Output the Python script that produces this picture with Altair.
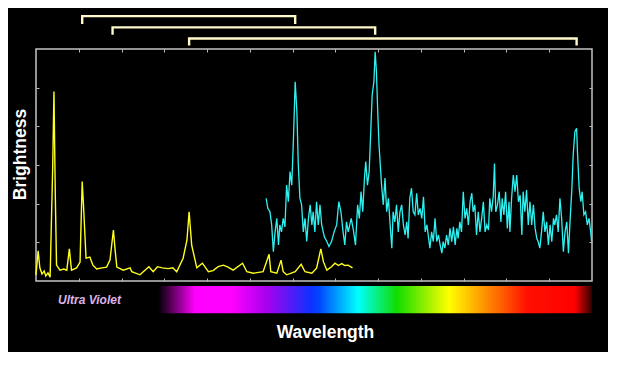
import altair as alt
import pandas as pd

# ---------------- data ----------------
uv_wavelength = [0.00, 0.05, 0.09, 0.14, 0.19, 0.23, 0.28, 0.33, 0.39, 0.42,
                 0.45, 0.48, 0.56, 0.65, 0.72, 0.78, 0.83, 0.95, 1.03, 1.08,
                 1.11, 1.17, 1.26, 1.33, 1.42, 1.54, 1.65, 1.73, 1.81, 1.85,
                 1.89, 2.04, 2.20, 2.24, 2.43, 2.64, 2.74, 2.84, 2.95, 3.09,
                 3.20, 3.29, 3.44, 3.53, 3.58, 3.64, 3.76, 3.89, 4.03, 4.14,
                 4.26, 4.38, 4.49, 4.61, 4.83, 4.93, 5.08, 5.31, 5.45, 5.49,
                 5.63, 5.73, 5.78, 5.86, 6.06, 6.20, 6.29, 6.45, 6.56, 6.66,
                 6.72, 6.80, 6.91, 6.99, 7.07, 7.15, 7.22, 7.30, 7.40]
uv_brightness = [0.16, 0.78, 0.34, 0.18, 0.26, 0.13, 0.21, 0.10, 2.92, 4.90,
                 2.30, 0.41, 0.28, 0.31, 0.28, 0.83, 0.28, 0.34, 0.49, 2.57,
                 1.97, 0.59, 0.62, 0.41, 0.31, 0.34, 0.36, 0.54, 1.32, 0.80,
                 0.36, 0.28, 0.34, 0.24, 0.16, 0.37, 0.24, 0.37, 0.34, 0.32,
                 0.34, 0.24, 0.59, 1.06, 1.79, 0.93, 0.34, 0.46, 0.24, 0.27,
                 0.37, 0.41, 0.36, 0.28, 0.46, 0.24, 0.20, 0.24, 0.69, 0.24,
                 0.20, 0.54, 0.24, 0.16, 0.24, 0.43, 0.24, 0.20, 0.33, 0.83,
                 0.50, 0.28, 0.37, 0.46, 0.40, 0.45, 0.40, 0.41, 0.34]

optical_wavelength = [
    5.38, 5.42, 5.47, 5.51, 5.55, 5.59, 5.63, 5.67, 5.70, 5.74,
    5.78, 5.82, 5.86, 5.90, 5.94, 5.98, 6.02, 6.06, 6.10, 6.13,
    6.17, 6.21, 6.25, 6.29, 6.33, 6.37, 6.41, 6.45, 6.48, 6.52,
    6.56, 6.60, 6.64, 6.68, 6.74, 6.80, 6.85, 6.91, 6.97, 7.03,
    7.08, 7.13, 7.18, 7.22, 7.26, 7.30, 7.37, 7.42, 7.47, 7.52,
    7.56, 7.60, 7.64, 7.68, 7.71, 7.75, 7.79, 7.83, 7.86, 7.90,
    7.93, 7.96, 7.99, 8.02, 8.05, 8.08, 8.12, 8.16, 8.20, 8.24,
    8.28, 8.32, 8.35, 8.39, 8.43, 8.47, 8.51, 8.55, 8.59, 8.63,
    8.67, 8.70, 8.74, 8.78, 8.82, 8.86, 8.90, 8.94, 8.98, 9.02,
    9.06, 9.10, 9.14, 9.17, 9.21, 9.25, 9.29, 9.33, 9.37, 9.41,
    9.45, 9.49, 9.52, 9.56, 9.60, 9.64, 9.68, 9.72, 9.76, 9.80,
    9.84, 9.87, 9.91, 9.95, 9.99, 10.03, 10.07, 10.11, 10.15, 10.19,
    10.22, 10.26, 10.30, 10.34, 10.38, 10.42, 10.46, 10.50, 10.54, 10.58,
    10.61, 10.65, 10.69, 10.72, 10.75, 10.79, 10.83, 10.87, 10.90, 10.94,
    10.98, 11.02, 11.06, 11.08, 11.12, 11.16, 11.20, 11.24, 11.28, 11.32,
    11.36, 11.39, 11.43, 11.47, 11.51, 11.55, 11.59, 11.63, 11.67, 11.71,
    11.74, 11.78, 11.82, 11.86, 11.90, 11.94, 11.98, 12.02, 12.06, 12.10,
    12.13, 12.17, 12.21, 12.25, 12.29, 12.33, 12.37, 12.41, 12.45, 12.49,
    12.53, 12.56, 12.60, 12.64, 12.66, 12.70, 12.74, 12.77, 12.81, 12.85,
    12.89, 12.93, 12.97, 12.99]
optical_brightness = [
    2.14, 1.88, 1.79, 1.45, 0.76, 1.27, 1.62, 0.93, 1.45, 1.27,
    1.62, 1.40, 2.48, 2.05, 2.83, 2.48, 3.69, 5.15, 4.38, 3.09,
    2.14, 1.97, 1.27, 1.62, 1.02, 1.62, 1.97, 1.45, 1.79, 1.27,
    2.05, 1.45, 1.97, 1.45, 1.15, 1.02, 0.89, 1.02, 1.27, 1.45,
    2.05, 1.79, 1.27, 0.93, 1.53, 1.27, 1.62, 1.32, 0.93, 1.97,
    1.62, 2.31, 1.79, 2.66, 3.09, 2.48, 2.83, 3.95, 4.81, 5.15,
    5.93, 5.41, 4.38, 3.52, 3.00, 2.48, 1.97, 2.66, 1.79, 2.14,
    1.45, 0.85, 1.79, 1.53, 1.97, 1.27, 1.79, 1.97, 1.45, 1.19,
    1.53, 1.10, 2.14, 2.40, 1.79, 1.71, 2.27, 1.71, 1.88, 1.62,
    2.18, 1.27, 1.45, 1.19, 0.85, 1.27, 1.02, 1.62, 1.02, 1.19,
    0.93, 0.72, 1.02, 0.85, 1.19, 0.93, 1.36, 1.02, 1.40, 0.93,
    1.36, 1.10, 1.53, 1.27, 2.31, 1.62, 1.88, 1.45, 2.05, 2.27,
    1.79, 1.97, 1.19, 1.79, 1.27, 1.62, 2.05, 1.27, 1.45, 1.32,
    2.14, 1.79, 2.18, 3.04, 1.79, 1.97, 2.31, 1.53, 2.14, 1.71,
    2.31, 1.36, 2.05, 1.27, 2.14, 2.74, 2.31, 2.74, 2.05, 2.22,
    1.19, 2.31, 1.79, 2.35, 1.45, 2.05, 1.45, 1.97, 1.36, 1.10,
    1.02, 0.85, 1.27, 1.79, 1.27, 1.53, 0.93, 1.45, 1.02, 1.62,
    1.45, 1.71, 1.27, 2.14, 1.62, 0.76, 1.27, 1.53, 0.72, 1.62,
    2.40, 3.26, 3.86, 3.95, 3.34, 2.40, 2.05, 2.31, 1.71, 1.79,
    1.45, 1.62, 1.27, 1.02]

# brackets linking matching lines (start, end, bar level, foot level)
bracket_names = ["first", "second", "third"]
bracket_start = [1.08, 1.79, 3.58]
bracket_end = [6.06, 7.93, 12.64]
bracket_top = [6.85, 6.56, 6.27]
bracket_foot = [6.68, 6.40, 6.12]

# colour spectrum strip under the plot
spectrum_start = [2.86]
spectrum_end = [13.0]
spectrum_top = [-0.13]
spectrum_bottom = [-0.835]

label_text = ["Ultra Violet"]
label_x = [1.25]
label_y = [-0.50]

x_ticks = [1, 2, 3, 4, 5, 6, 7, 8, 9, 10, 11, 12]
y_ticks = [1, 2, 3, 4, 5]
x_domain = [0, 13]
y_domain = [0, 6]

# ---------------- tables ----------------
uv_df = pd.DataFrame({"w": uv_wavelength, "b": uv_brightness})
opt_df = pd.DataFrame({"w": optical_wavelength, "b": optical_brightness})

rows = []
for n, s, e, t, f in zip(bracket_names, bracket_start, bracket_end, bracket_top, bracket_foot):
    rows += [
        {"bracket": n, "order": 0, "w": s, "b": f},
        {"bracket": n, "order": 1, "w": s, "b": t},
        {"bracket": n, "order": 2, "w": e, "b": t},
        {"bracket": n, "order": 3, "w": e, "b": f},
    ]
br_df = pd.DataFrame(rows)
sp_df = pd.DataFrame({"w": spectrum_start, "w2": spectrum_end,
                      "b": spectrum_top, "b2": spectrum_bottom})
lb_df = pd.DataFrame({"w": label_x, "b": label_y, "t": label_text})

# ---------------- chart ----------------
FONT = "Liberation Sans"
xs = alt.Scale(domain=x_domain, nice=False, zero=False)
ys = alt.Scale(domain=y_domain, nice=False, zero=False)
tick_style = dict(labels=False, domain=False, grid=False, ticks=True,
                  tickSize=3, tickWidth=1, tickColor="#b8b8b8", offset=-3)
title_style = dict(titleColor="white", titleFont=FONT, titleFontSize=17.5,
                   titleFontWeight="bold", titleBaseline="alphabetic",
                   titleAlign="center")

uv = alt.Chart(uv_df).mark_line(color="#ffff1e", strokeWidth=1.4).encode(
    x=alt.X("w:Q", scale=xs, axis=alt.Axis(orient="bottom", values=x_ticks,
            title="Wavelength", titleX=289, titleY=59, **title_style, **tick_style)),
    y=alt.Y("b:Q", scale=ys, axis=alt.Axis(orient="left", values=y_ticks,
            title="Brightness", titleX=-14, titleY=105, titleAngle=270,
            **title_style, **tick_style)),
)

opt = alt.Chart(opt_df).mark_line(color="#2ef2f2", strokeWidth=1.3).encode(
    x=alt.X("w:Q", scale=xs, axis=alt.Axis(orient="top", values=x_ticks,
            title=None, **tick_style)),
    y=alt.Y("b:Q", scale=ys, axis=alt.Axis(orient="right", values=y_ticks,
            title=None, **tick_style)),
)

brackets = alt.Chart(br_df).mark_line(
    color="#fff8c8", strokeWidth=2.4, clip=False, strokeCap="square",
    strokeJoin="miter").encode(
    x=alt.X("w:Q", scale=xs, axis=None),
    y=alt.Y("b:Q", scale=ys, axis=None),
    detail="bracket:N",
    order="order:Q",
)

stop_offsets = [0.0, 0.085, 0.17, 0.25, 0.35, 0.37, 0.46, 0.55, 0.67, 0.76, 0.85, 0.96, 1.0]
stop_colors = ["#000000", "#ff00ff", "#ff00ff", "#a800ee", "#1030ff", "#0044ff",
               "#00ffff", "#10dd00", "#ffff00", "#ff8800", "#ff1000", "#ff0000", "#300000"]
gradient = alt.LinearGradient(
    gradient="linear",
    stops=[alt.GradientStop(color=c, offset=o) for o, c in zip(stop_offsets, stop_colors)],
    x1=0, x2=1, y1=0, y2=0,
)
spectrum = alt.Chart(sp_df).mark_rect(fill=gradient, clip=False).encode(
    x=alt.X("w:Q", scale=xs, axis=None), x2="w2",
    y=alt.Y("b:Q", scale=ys, axis=None), y2="b2",
)

label = alt.Chart(lb_df).mark_text(
    font=FONT, fontSize=12, fontStyle="italic", fontWeight="bold",
    color="#dcb4ea", clip=False, align="center", baseline="middle").encode(
    x=alt.X("w:Q", scale=xs, axis=None),
    y=alt.Y("b:Q", scale=ys, axis=None),
    text="t:N",
)

chart = alt.layer(spectrum, opt, uv, brackets, label).resolve_axis(
    x="independent", y="independent"
).properties(
    width=556, height=232,
    padding={"left": 28, "top": 41, "right": 16, "bottom": 71},
    autosize=alt.AutoSizeParams(type="none"),
    background="black",
).configure_view(stroke="#c4c4c4", strokeWidth=1.5)

chart.save("out.html", embed_options={"renderer": "svg", "actions": False})
